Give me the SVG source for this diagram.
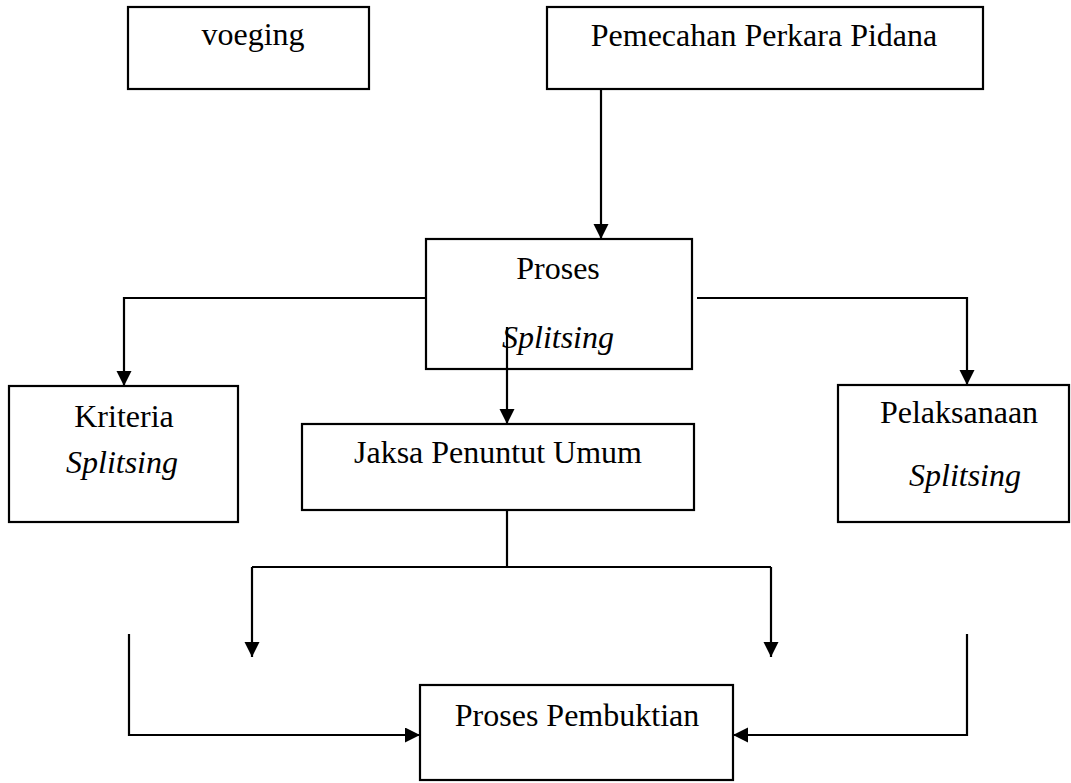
<svg xmlns="http://www.w3.org/2000/svg" width="1071" height="783" viewBox="0 0 1071 783">
<style>
.box{fill:#fff;stroke:#000;stroke-width:2.2}
.t{font-family:"Liberation Serif","Times New Roman",serif;font-size:32px;fill:#000;text-anchor:middle}
.i{font-style:italic}
.c{fill:none;stroke:#000;stroke-width:2.2}
</style>
<defs>
<marker id="ah" markerUnits="userSpaceOnUse" markerWidth="16" markerHeight="16" refX="15" refY="7.5" orient="auto">
<path d="M0,0 L15,7.5 L0,15 z" fill="#000"/>
</marker>
</defs>
<rect width="1071" height="783" fill="#fff"/>
<g id="voeging"><rect class="box" x="128" y="7" width="241" height="82"/><text class="t" x="253" y="45">voeging</text></g>
<g id="pemecahan"><rect class="box" x="547" y="7" width="436" height="82"/><text class="t" x="764" y="46">Pemecahan Perkara Pidana</text></g>
<g id="proses"><rect class="box" x="426" y="239" width="266" height="130"/><text class="t" x="558" y="279">Proses</text><text class="t i" x="558" y="348">Splitsing</text></g>
<g id="kriteria"><rect class="box" x="9" y="386" width="229" height="136"/><text class="t" x="124" y="427">Kriteria</text><text class="t i" x="122" y="473">Splitsing</text></g>
<g id="jaksa"><rect class="box" x="302" y="424" width="392" height="86"/><text class="t" x="498" y="463">Jaksa Penuntut Umum</text></g>
<g id="pelaksanaan"><rect class="box" x="838" y="385" width="231" height="137"/><text class="t" x="959" y="423">Pelaksanaan</text><text class="t i" x="965" y="486">Splitsing</text></g>
<g id="pembuktian"><rect class="box" x="420" y="685" width="313" height="95"/><text class="t" x="577" y="726">Proses Pembuktian</text></g>
<g id="connectors">
<path class="c" d="M601,89 V239" marker-end="url(#ah)"/>
<path class="c" d="M426,298 H124 V386" marker-end="url(#ah)"/>
<path class="c" d="M697,298 H967 V385" marker-end="url(#ah)"/>
<path class="c" d="M507,327 V424" marker-end="url(#ah)"/>
<path class="c" d="M507,510 V567"/>
<path class="c" d="M252,567 H771"/>
<path class="c" d="M252,567 V657" marker-end="url(#ah)"/>
<path class="c" d="M771,567 V657" marker-end="url(#ah)"/>
<path class="c" d="M129,634 V735 H420" marker-end="url(#ah)"/>
<path class="c" d="M967,634 V735 H733" marker-end="url(#ah)"/>
</g>
</svg>
